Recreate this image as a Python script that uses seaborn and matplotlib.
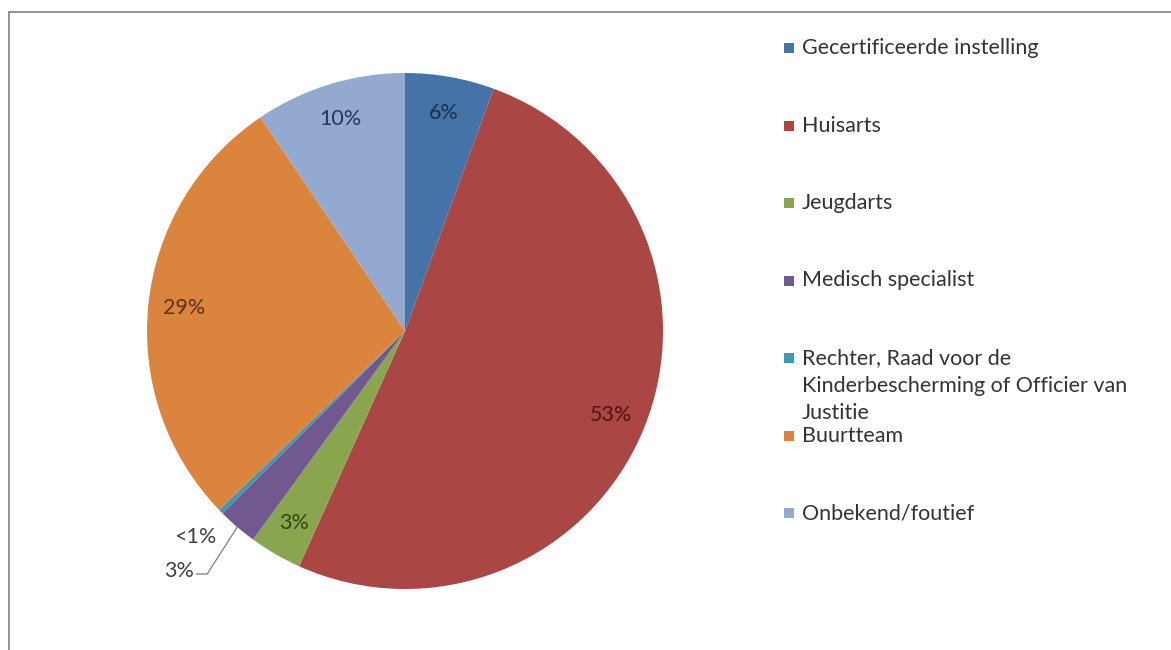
import matplotlib
matplotlib.use("Agg")
import matplotlib.pyplot as plt
import seaborn as sns
import numpy as np
from matplotlib.lines import Line2D
from matplotlib.patches import Rectangle

# ---- data ----
categories = [
    "Gecertificeerde instelling",
    "Huisarts",
    "Jeugdarts",
    "Medisch specialist",
    "Rechter, Raad voor de\nKinderbescherming of Officier van\nJustitie",
    "Buurtteam",
    "Onbekend/foutief",
]
values = [5.6, 51.3, 3.3, 2.5, 0.3, 27.8, 9.5]
pct_labels = ["6%", "53%", "3%", "3%", "<1%", "29%", "10%"]
hex_colors = ["#4572A7", "#AA4643", "#89A54E", "#71588F", "#4198AF", "#DB843D", "#93A9CF"]
label_colors = ["#1c2f4f", "#4a1514", "#34451a", "#404040", "#404040", "#5a3310", "#24365a"]

sns.set_theme(style="white")
plt.rcParams['font.family'] = ['Lato', 'DejaVu Sans']

W, H = 1171, 650
fig = plt.figure(figsize=(11.71, 6.5), dpi=100)
ax = fig.add_axes([0, 0, 1, 1])
colors = sns.color_palette(hex_colors)

cx, cy, R = 405, H - 331, 258
wedges, _ = ax.pie(values, colors=colors, startangle=90, counterclock=False,
                   center=(cx, cy), radius=R, wedgeprops=dict(linewidth=0))
ax.set_xlim(0, W)
ax.set_ylim(0, H)
ax.set_aspect('equal')
ax.axis('off')

fs = 15.5
for i, w in enumerate(wedges):
    mid = np.deg2rad((w.theta1 + w.theta2) / 2)
    if i in (3, 4):
        ex, ey = cx + R * np.cos(mid), cy + R * np.sin(mid)
        if i == 3:
            lx, ly = ex - 30, ey - 47
            ax.plot([ex, lx, lx - 11], [ey, ly, ly], color="#7f7f7f", lw=0.9)
            ax.text(lx - 13, ly + 3, pct_labels[i], ha='right', va='center',
                    fontsize=fs, color=label_colors[i])
        else:
            ax.text(ex - 4, ey - 25, pct_labels[i], ha='right', va='center',
                    fontsize=fs, color=label_colors[i])
    else:
        r = 0.86 * R
        ax.text(cx + r * np.cos(mid), cy + r * np.sin(mid), pct_labels[i],
                ha='center', va='center', fontsize=fs, color=label_colors[i])

# ---- legend (fixed pitch, multi-line label overflows downward) ----
leg_top = H - 48
pitch = 77.5
for i, (cat, col) in enumerate(zip(categories, colors)):
    y = leg_top - i * pitch
    ax.add_patch(Rectangle((784, y - 5), 10, 10, facecolor=col, edgecolor='none'))
    ax.text(802, y + 10, cat, ha='left', va='top', fontsize=fs, color="#333333",
            linespacing=1.48)

# ---- chart-area border (cropped frame) ----
fig.add_artist(Line2D([8.5 / W, 8.5 / W], [0, 1 - 12 / H], color="#8a8a8a", lw=1.3,
                      transform=fig.transFigure))
fig.add_artist(Line2D([8.5 / W, 1], [1 - 12 / H, 1 - 12 / H], color="#8a8a8a", lw=1.3,
                      transform=fig.transFigure))

fig.savefig("out.png", dpi=100, facecolor="white")
